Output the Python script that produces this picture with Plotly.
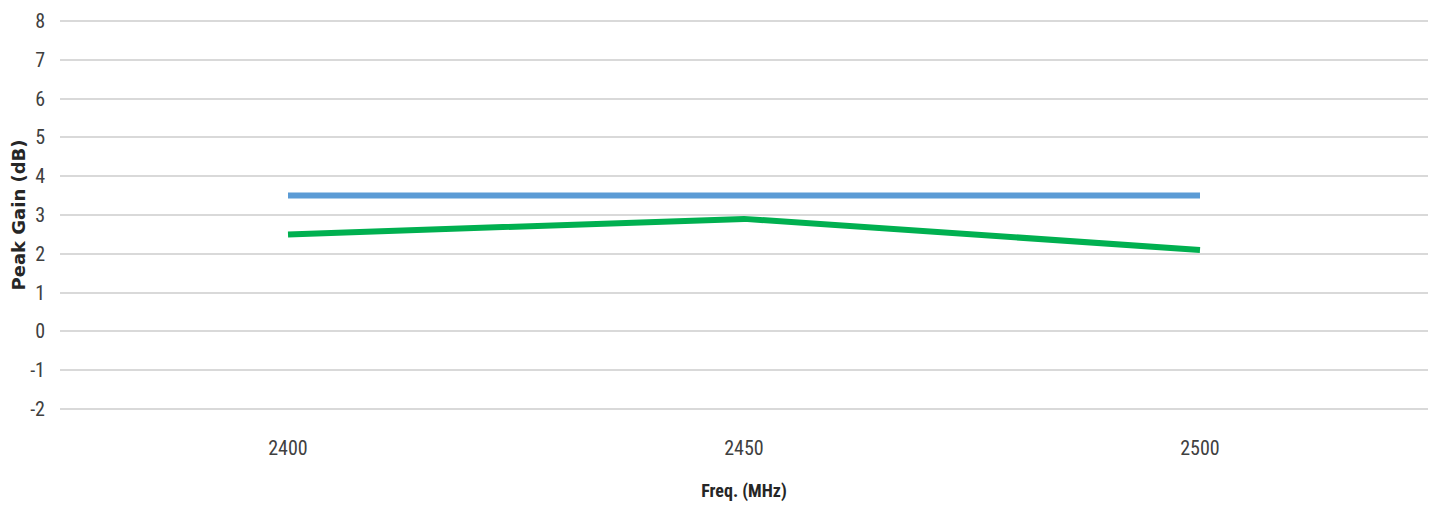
import plotly.graph_objects as go

freq = ["2400", "2450", "2500"]
series_blue = [3.5, 3.5, 3.5]
series_green = [2.5, 2.9, 2.1]
y_ticks = [-2, -1, 0, 1, 2, 3, 4, 5, 6, 7, 8]
y_tick_text = ["-2", "-1", "0", "1", "2", "3", "4", "5", "6", "7", "8"]

narrow = "Liberation Sans Narrow, Roboto Condensed, Roboto, sans-serif"

fig = go.Figure()
fig.add_trace(go.Scatter(x=freq, y=series_blue, mode="lines",
                         line=dict(color="#5B9BD5", width=6), showlegend=False))
fig.add_trace(go.Scatter(x=freq, y=series_green, mode="lines",
                         line=dict(color="#00B050", width=6), showlegend=False))

fig.update_layout(
    width=1429, height=503,
    margin=dict(l=52, r=9, t=12, b=101),
    paper_bgcolor="white", plot_bgcolor="white",
    xaxis=dict(type="category", range=[-0.5, 2.5], showgrid=False, zeroline=False,
               showline=False, ticks="", automargin=False,
               tickfont=dict(family=narrow, size=20, color="#404040"),
               ticklabelstandoff=24,
               title=dict(text="<b>Freq. (MHz)</b>", font=dict(family=narrow, size=18, color="#262626"),
                          standoff=25)),
    yaxis=dict(range=[-2.03, 8.03], tickvals=y_ticks, ticktext=y_tick_text,
               showgrid=True, gridcolor="#D9D9D9", gridwidth=1.5,
               zeroline=False, showline=False, ticks="", automargin=False,
               tickfont=dict(family=narrow, size=20, color="#404040"),
               ticklabelstandoff=14,
               title=dict(text="<b>Peak Gain (dB)</b>", font=dict(family="DejaVu Sans, Verdana, sans-serif", size=18, color="#262626"),
                          standoff=1)),
)

fig.write_html("out.html")
